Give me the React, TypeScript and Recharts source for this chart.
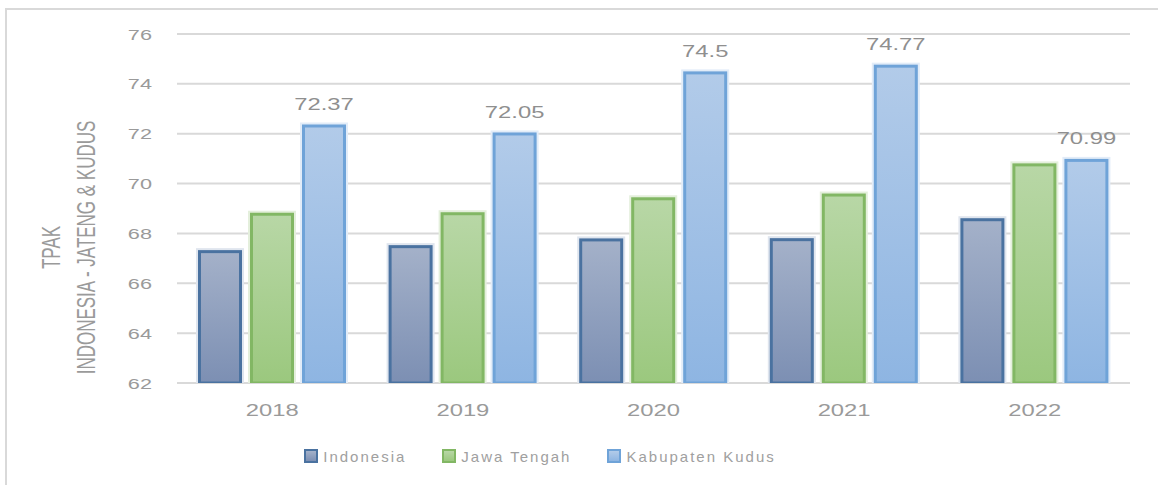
import React from 'react';
import { BarChart, Bar, XAxis, YAxis, CartesianGrid, LabelList } from 'recharts';

const years = ['2018', '2019', '2020', '2021', '2022'];
const indonesia = [67.33, 67.53, 67.8, 67.81, 68.61];
const jawaTengah = [68.83, 68.85, 69.45, 69.6, 70.81];
const kudus = [72.37, 72.05, 74.5, 74.77, 70.99];
const yTicks = [62, 64, 66, 68, 70, 72, 74, 76];
const seriesNames = ['Indonesia', 'Jawa Tengah', 'Kabupaten Kudus'];
const axisTitle = ['TPAK', 'INDONESIA - JATENG & KUDUS'];

const data = years.map((y, i) => ({
  year: y,
  indonesia: indonesia[i],
  jawaTengah: jawaTengah[i],
  kudus: kudus[i],
}));

const FONT = '"Liberation Sans", Arial, sans-serif';

const styles = [
  { key: 'indonesia', grad: 'gInd', top: '#a4b1c9', bottom: '#7c8fb3', stroke: '#4a72a0', halo: '#dfe5ee' },
  { key: 'jawaTengah', grad: 'gJat', top: '#b8d7a6', bottom: '#9bc87e', stroke: '#82b764', halo: '#e4efdc' },
  { key: 'kudus', grad: 'gKud', top: '#b2cbe9', bottom: '#8eb5e2', stroke: '#6fa3d8', halo: '#e2ecf8' },
];

const makeShape = (halo: string) => (props: any) => {
  const { x, y, width, height, fill, stroke } = props;
  if (width == null || height == null || height <= 0) return null;
  return (
    <g>
      <rect x={x - 2} y={y - 2} width={width + 4} height={height + 2} fill={halo} />
      <rect
        x={x + 1.5}
        y={y + 1.5}
        width={Math.max(width - 3, 0)}
        height={Math.max(height - 1.5, 0)}
        fill={fill}
        stroke={stroke}
        strokeWidth={3}
      />
    </g>
  );
};

const XTick = (props: any) => {
  const { x, y, payload } = props;
  return (
    <g transform={`translate(${x},${y + 33}) scale(1.4,1)`}>
      <text textAnchor="middle" fill="#9a9a9a" fontSize={17} fontFamily={FONT}>
        {payload.value}
      </text>
    </g>
  );
};

const YTick = (props: any) => {
  const { x, y, payload } = props;
  return (
    <g transform={`translate(${x - 25},${y + 5.5}) scale(1.4,1)`}>
      <text textAnchor="end" fill="#9a9a9a" fontSize={15.5} fontFamily={FONT}>
        {payload.value}
      </text>
    </g>
  );
};

const ValueLabel = (props: any) => {
  const { x, y, width, value } = props;
  return (
    <g transform={`translate(${x + width / 2},${y - 14.5}) scale(1.4,1)`}>
      <text textAnchor="middle" fill="#8f8f8f" fontSize={17} fontFamily={FONT}>
        {value}
      </text>
    </g>
  );
};

const AxisTitle = (props: any) => {
  const vb = props.viewBox || {};
  const cy = (vb.y ?? 34) + (vb.height ?? 349) / 2 + 39;
  const xs = [60, 95];
  return (
    <g>
      {axisTitle.map((t, i) => (
        <g key={t} transform={`translate(${xs[i]},${cy}) scale(1.5,1) rotate(-90)`}>
          <text textAnchor="middle" fill="#9a9a9a" fontSize={17} fontFamily={FONT}>
            {t}
          </text>
        </g>
      ))}
    </g>
  );
};

export default function App() {
  return (
    <div
      style={{
        position: 'fixed',
        left: 0,
        top: 0,
        width: 1158,
        height: 485,
        overflow: 'hidden',
        background: '#fff',
      }}
    >
      <svg width={0} height={0} style={{ position: 'absolute' }}>
        <defs>
          {styles.map((s) => (
            <linearGradient key={s.grad} id={s.grad} x1="0" y1="0" x2="0" y2="1">
              <stop offset="0%" stopColor={s.top} />
              <stop offset="100%" stopColor={s.bottom} />
            </linearGradient>
          ))}
        </defs>
      </svg>
      <div
        style={{
          position: 'absolute',
          left: 5,
          top: 8,
          width: 1300,
          height: 600,
          border: '2px solid #d9d9d9',
        }}
      />
      <div style={{ position: 'absolute', left: 0, top: 0 }}>
        <BarChart
          width={1158}
          height={485}
          data={data}
          margin={{ top: 34, right: 28, bottom: 0, left: 0 }}
          barCategoryGap={21}
          barGap={8}
        >
          <CartesianGrid vertical={false} stroke="#d9d9d9" strokeWidth={2} />
          <XAxis
            dataKey="year"
            height={102}
            axisLine={false}
            tickLine={false}
            tickSize={0}
            tickMargin={0}
            tick={<XTick />}
            interval={0}
          />
          <YAxis
            width={177}
            domain={[62, 76]}
            ticks={yTicks}
            allowDataOverflow
            axisLine={false}
            tickLine={false}
            tickSize={0}
            tickMargin={0}
            tick={<YTick />}
            label={<AxisTitle />}
          />
          {styles.map((s, i) => (
            <Bar
              key={s.key}
              dataKey={s.key}
              name={seriesNames[i]}
              fill={`url(#${s.grad})`}
              stroke={s.stroke}
              shape={makeShape(s.halo)}
              isAnimationActive={false}
            >
              {s.key === 'kudus' ? <LabelList dataKey="kudus" content={<ValueLabel />} /> : null}
            </Bar>
          ))}
        </BarChart>
      </div>
      <div
        style={{
          position: 'absolute',
          left: 0,
          top: 446,
          width: 1080,
          height: 20,
          display: 'flex',
          justifyContent: 'center',
          alignItems: 'center',
          gap: 36,
          fontFamily: FONT,
          fontSize: 15,
          color: '#a0a0a0',
          letterSpacing: 2,
        }}
      >
        {styles.map((s, i) => (
          <div key={s.key} style={{ display: 'flex', alignItems: 'center' }}>
            <div
              style={{
                width: 10,
                height: 10,
                border: `2px solid ${s.stroke}`,
                background: `linear-gradient(${s.top}, ${s.bottom})`,
                marginRight: 5,
              }}
            />
            <span>{seriesNames[i]}</span>
          </div>
        ))}
      </div>
    </div>
  );
}
